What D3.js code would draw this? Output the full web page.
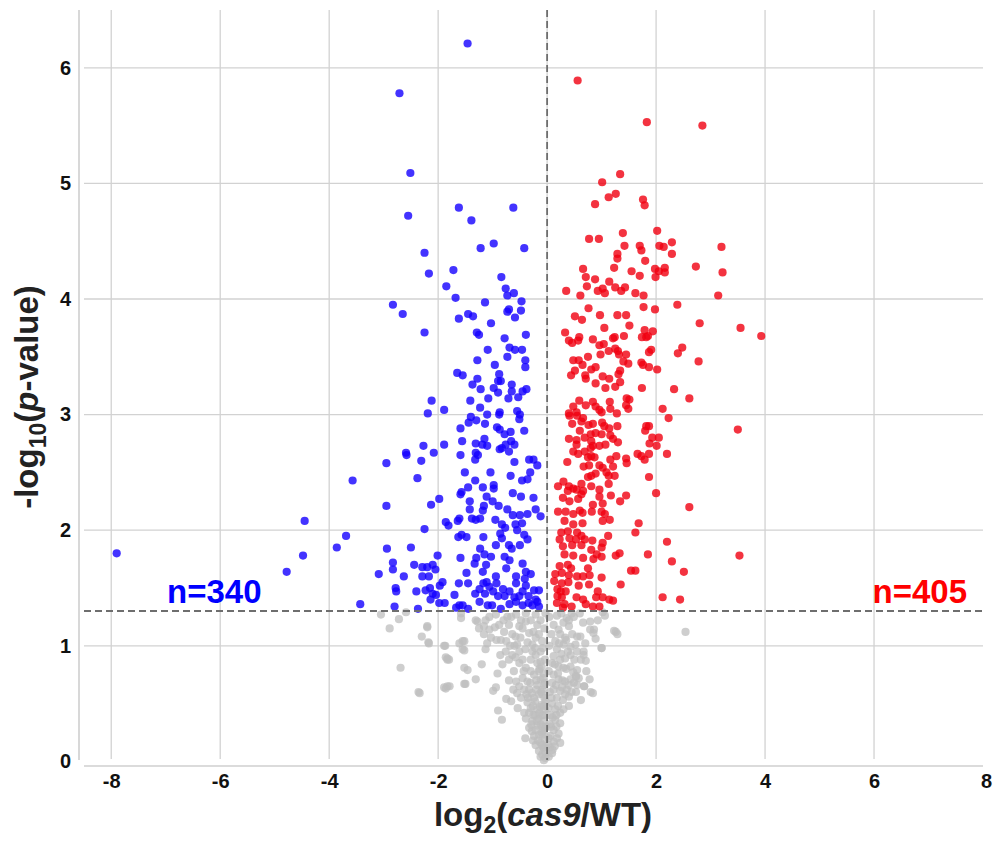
<!DOCTYPE html>
<html>
<head>
<meta charset="utf-8">
<script src="https://cdn.jsdelivr.net/npm/d3@7"></script>
<style>
body { margin:0; background:#fff; }
text { font-family: "Liberation Sans", Arial, sans-serif; font-weight:bold; }
</style>
</head>
<body>
<div id="chart"></div>
<script>
// volcano plot: log2 fold change vs -log10 p
var xTicks = [-8,-6,-4,-2,0,2,4,6,8];
var yTicks = [0,1,2,3,4,5,6];
var pCut = 1.301;
var nDown = 340, nUp = 405;

// significant, down (blue)
var down = [
[-1.46,6.21],[-2.71,5.78],[-2.51,5.09],[-2.55,4.72],[-1.62,4.79],[-0.62,4.79],[-1.39,4.68],[-0.98,4.48],[-1.22,4.44],[-0.42,4.44],
[-2.25,4.40],[-2.17,4.22],[-1.72,4.25],[-0.84,4.19],[-1.85,4.11],[-0.76,4.09],[-0.73,4.03],[-0.61,4.05],[-1.68,4.01],[-2.83,3.95],
[-2.65,3.87],[-1.14,3.97],[-0.47,3.98],[-0.70,3.91],[-0.73,3.89],[-0.48,3.90],[-1.45,3.87],[-1.36,3.85],[-1.62,3.83],[-0.59,3.84],
[-1.03,3.79],[-2.25,3.71],[-1.29,3.71],[-1.25,3.69],[-0.39,3.69],[-0.78,3.66],[-0.69,3.58],[-0.59,3.56],[-0.46,3.56],[-1.09,3.56],
[-0.73,3.50],[-1.28,3.47],[-0.40,3.47],[-0.96,3.43],[-0.40,3.41],[-1.65,3.36],[-1.55,3.34],[-0.88,3.35],[-1.28,3.31],[-0.90,3.29],
[-0.85,3.29],[-1.37,3.26],[-0.65,3.26],[-0.98,3.23],[-1.22,3.22],[-0.90,3.19],[-0.65,3.20],[-0.38,3.22],[-0.45,3.20],[-0.53,3.15],
[-1.41,3.12],[-1.08,3.14],[-0.71,3.14],[-2.12,3.12],
[-2.19,3.01],[-1.89,3.04],[-1.23,3.06],[-0.87,3.02],[-0.88,3.00],[-1.10,3.00],[-1.40,2.98],[-0.55,3.03],[-0.50,3.00],[-0.51,2.96],
[-1.30,2.95],[-1.14,2.92],[-1.44,2.93],[-1.59,2.88],[-0.92,2.89],[-0.87,2.87],[-0.78,2.83],[-0.67,2.85],[-0.42,2.86],[-1.15,2.79],
[-1.56,2.77],[-1.31,2.75],[-1.19,2.74],[-1.10,2.73],[-0.66,2.77],[-0.60,2.74],[-0.76,2.74],[-1.89,2.74],[-2.27,2.73],[-2.59,2.67],
[-2.58,2.65],[-2.08,2.67],[-1.59,2.65],[-1.31,2.67],[-1.27,2.65],[-0.87,2.70],[-0.70,2.68],[-0.83,2.71],[-2.95,2.58],[-2.31,2.60],
[-1.32,2.61],[-0.60,2.59],[-0.33,2.61],[-0.25,2.61],[-0.18,2.56],[-2.38,2.45],[-1.51,2.50],[-1.04,2.50],[-0.67,2.47],[-0.31,2.50],
[-0.46,2.43],[-0.36,2.44],[-1.32,2.43],[-0.98,2.39],[-0.98,2.36],[-1.18,2.37],[-1.45,2.37],[-1.57,2.33],[-1.59,2.31],[-0.63,2.32],
[-1.11,2.29],[-0.48,2.29],[-0.25,2.28],[-1.98,2.27],[-2.13,2.22],[-2.95,2.21],[-1.42,2.25],[-1.00,2.25],[-0.89,2.21],[-1.16,2.21],
[-1.42,2.18],[-1.18,2.17],[-0.73,2.18],[-0.63,2.13],[-0.50,2.13],[-0.36,2.14],[-0.21,2.18],[-0.12,2.12],[-1.38,2.10],[-1.31,2.09],
[-1.23,2.10],[-1.61,2.10],[-1.64,2.08],[-1.86,2.07],[-1.81,2.04],[-0.95,2.09],[-0.83,2.05],[-0.77,2.02],[-0.58,2.05],[-0.46,2.06],
[-0.86,1.97],[-0.55,2.00],[-2.25,2.01],[-1.63,1.94],[-1.57,1.96],[-1.48,1.94],[-1.17,1.94],[-0.42,1.96],[-0.36,1.92],[-0.83,1.93],
[-0.70,1.87],[-0.94,1.87],[-0.65,1.84],[-0.50,1.87],[-1.23,1.84],[-2.94,1.84],[-2.50,1.85],[-2.01,1.78],[-1.59,1.76],[-1.30,1.76],
[-1.15,1.79],[-1.03,1.77],[-0.78,1.77],[-0.69,1.74],[-0.45,1.71],[-2.83,1.72],[-2.44,1.70],[-2.29,1.68],[-2.20,1.68],[-2.10,1.70],
[-2.83,1.66],[-2.05,1.66],[-1.33,1.71],[-1.12,1.70],[-1.18,1.64],[-0.75,1.67],[-0.39,1.64],[-0.30,1.62],[-3.09,1.62],[-2.63,1.60],
[-2.29,1.60],[-2.17,1.60],[-1.48,1.63],[-0.94,1.60],[-0.57,1.60],[-0.41,1.58],[-1.92,1.55],[-1.62,1.54],[-1.45,1.54],[-1.17,1.54],
[-1.11,1.55],[-0.93,1.54],[-0.57,1.54],[-0.39,1.52],[-2.78,1.50],[-2.77,1.47],[-2.40,1.47],[-2.23,1.48],[-2.15,1.50],[-1.97,1.52],
[-1.24,1.49],[-1.06,1.51],[-0.81,1.49],[-0.69,1.47],[-0.45,1.47],[-0.24,1.48],[-0.15,1.48],[-2.10,1.45],[-2.04,1.44],[-1.70,1.44],
[-1.32,1.45],[-1.14,1.45],[-0.99,1.47],[-0.90,1.43],[-0.78,1.43],[-0.60,1.42],[-0.51,1.43],[-0.34,1.43],[-0.21,1.40],[-0.18,1.38],
[-2.14,1.40],[-1.88,1.37],[-1.98,1.37],[-1.55,1.35],[-1.61,1.35],[-1.24,1.38],[-1.09,1.35],[-1.01,1.35],[-0.69,1.36],[-0.57,1.38],
[-0.45,1.35],[-0.34,1.37],[-0.27,1.35],[-2.37,1.32],[-2.80,1.34],[-1.67,1.33],[-1.45,1.32],[-0.85,1.32],[-0.15,1.34],
[-3.57,2.43],[-4.45,2.08],[-3.69,1.95],[-3.86,1.85],[-4.48,1.78],[-4.78,1.64],[-7.90,1.80],[-3.43,1.36]
];

// significant, up (red)
var up = [
[0.56,5.89],[1.83,5.53],[2.85,5.50],
[1.34,5.08],[1.01,5.01],[1.26,4.91],[1.13,4.88],[0.88,4.82],[1.76,4.86],[1.79,4.81],[1.39,4.57],[0.77,4.52],[0.95,4.52],[2.02,4.59],
[2.29,4.49],[1.70,4.46],[1.73,4.42],[2.06,4.46],[2.14,4.45],[1.42,4.46],[1.29,4.39],[1.29,4.35],[2.29,4.39],[3.20,4.45],[1.80,4.33],
[1.23,4.27],[0.66,4.26],[1.98,4.26],[2.16,4.27],[2.05,4.24],[2.16,4.23],[1.99,4.19],[2.73,4.28],[3.22,4.23],[1.55,4.24],[1.70,4.20],
[0.71,4.19],[0.88,4.17],[1.14,4.15],[0.73,4.11],[0.35,4.07],[0.93,4.07],[1.02,4.09],[1.06,4.05],[1.25,4.10],[1.36,4.07],[1.43,4.10],
[1.62,4.05],[1.77,4.03],[0.61,4.03],[3.14,4.03],[0.76,3.92],[1.77,3.93],[1.98,3.91],[2.39,3.95],[0.51,3.85],[0.64,3.82],[0.97,3.86],
[1.29,3.86],[1.45,3.86],[1.51,3.77],[1.05,3.75],[2.80,3.79],[3.55,3.75],[3.93,3.68],[0.33,3.71],[0.40,3.64],[0.46,3.62],[0.59,3.67],
[0.57,3.64],[0.84,3.65],[1.21,3.66],[1.24,3.67],[1.41,3.68],[1.79,3.73],[1.94,3.72],[1.74,3.67],[1.82,3.67],[1.85,3.68],[0.96,3.60],
[1.04,3.61],[1.25,3.57],[1.30,3.55],[1.13,3.55],[0.98,3.52],[1.45,3.52],[1.32,3.52],[1.91,3.56],[1.87,3.54],[2.48,3.58],[2.40,3.53],
[0.75,3.50],[0.48,3.47],[0.58,3.47],[0.65,3.43],[1.40,3.46],[1.49,3.44],[1.73,3.45],[1.76,3.43],[1.87,3.41],[2.02,3.39],[2.78,3.46],
[0.81,3.39],[0.89,3.41],[1.34,3.38],[0.51,3.38],[0.44,3.34],[0.70,3.34],[0.71,3.31],[1.02,3.33],[1.14,3.31],[1.31,3.35],[0.89,3.27],
[1.34,3.28],[1.25,3.24],[1.07,3.23],[1.74,3.23],[2.33,3.22],
[2.61,3.14],[1.46,3.14],[1.51,3.13],[0.59,3.12],[0.84,3.11],[1.15,3.11],[1.45,3.08],[1.49,3.05],[2.12,3.05],[0.48,3.07],[0.71,3.08],
[0.89,3.07],[0.96,3.04],[1.00,3.02],[1.16,3.05],[0.40,3.01],[0.41,2.99],[0.54,3.02],[0.55,2.99],[1.28,3.01],[2.23,2.97],[0.66,2.97],
[0.63,2.94],[0.46,2.92],[0.76,2.91],[0.84,2.92],[1.01,2.93],[1.05,2.90],[1.14,2.88],[1.29,2.90],[1.82,2.90],[1.87,2.90],[1.80,2.86],
[3.50,2.87],[0.60,2.86],[0.80,2.83],[0.89,2.84],[1.00,2.83],[1.16,2.82],[1.21,2.79],[1.30,2.76],[0.40,2.79],[0.54,2.78],[0.69,2.80],
[0.81,2.77],[0.84,2.73],[0.80,2.71],[0.96,2.73],[1.07,2.74],[1.93,2.80],[2.05,2.80],[1.88,2.75],[2.01,2.73],[0.54,2.74],[0.48,2.68],
[0.57,2.66],[0.69,2.68],[1.87,2.66],[1.66,2.66],[1.73,2.64],[1.79,2.61],[2.20,2.66],[0.75,2.63],[0.81,2.64],[0.87,2.63],[1.16,2.61],
[1.27,2.64],[1.45,2.62],[1.46,2.58],[0.37,2.59],[0.67,2.55],[0.77,2.56],[0.96,2.56],[1.02,2.54],[1.21,2.55],[0.89,2.49],[0.81,2.47],
[0.75,2.46],[1.09,2.50],[1.13,2.47],[1.24,2.47],[1.87,2.46],[0.30,2.42],[0.20,2.38],[0.40,2.38],[0.48,2.36],[0.38,2.34],[0.54,2.35],
[0.63,2.40],[0.66,2.34],[0.63,2.31],[0.81,2.38],[0.96,2.35],[1.13,2.40],[1.17,2.30],[1.45,2.30],[1.34,2.25],[0.96,2.29],[2.00,2.32],
[0.29,2.28],[0.41,2.25],[0.57,2.27],[0.84,2.22],[1.02,2.23],[2.61,2.20],[0.20,2.16],[0.34,2.16],[0.48,2.14],[0.60,2.17],[0.65,2.15],
[0.82,2.16],[1.00,2.16],[1.06,2.14],[1.15,2.09],[1.02,2.08],[0.32,2.08],[0.48,2.05],[0.65,2.06],[1.68,2.06],[1.62,1.98],[0.26,1.98],
[0.38,1.99],[0.55,1.98],[0.41,1.93],[0.23,1.92],[0.53,1.92],[0.63,1.95],[0.69,1.92],[0.83,1.91],[1.12,1.95],[1.02,1.89],[2.20,1.90],
[0.29,1.86],[0.46,1.87],[0.63,1.87],[0.81,1.83],[1.00,1.85],[1.33,1.80],[1.26,1.78],[1.85,1.79],[3.53,1.78],[0.32,1.79],[0.48,1.78],
[0.66,1.76],[0.91,1.79],[1.00,1.77],[0.85,1.75],[2.29,1.73],[0.23,1.69],[0.38,1.70],[0.44,1.67],[0.75,1.67],[1.54,1.65],[1.62,1.65],
[2.51,1.64],[0.15,1.62],[0.27,1.63],[0.40,1.61],[0.55,1.60],[0.66,1.60],[0.78,1.61],[1.00,1.59],[0.13,1.56],[0.27,1.54],[0.39,1.55],
[0.58,1.52],[0.77,1.53],[1.35,1.53],[0.19,1.49],[0.25,1.47],[0.34,1.47],[0.93,1.47],[0.19,1.43],[0.27,1.42],[0.54,1.42],[0.66,1.40],
[0.90,1.42],[1.02,1.42],[1.14,1.40],[1.21,1.39],[2.12,1.42],[2.44,1.40],[0.18,1.37],[0.32,1.36],[0.45,1.34],[0.71,1.36],[0.84,1.34],
[0.96,1.34],[0.29,1.33]
];

// not significant (grey)
var ns = [
[-2.20,1.16],[-2.30,1.08],[-2.17,1.02],[-1.89,1.00],[-1.61,1.02],[-1.52,1.04],[-1.55,0.97],[-1.58,1.28],[-1.83,0.89],[-1.80,0.88],
[-1.46,0.79],[-1.20,0.84],[-1.31,0.71],[-1.50,0.67],[-1.86,0.63],[-1.79,0.65],[-2.34,0.59],[-0.91,0.76],[-0.99,0.61],[-0.94,0.64],
[-1.13,0.97],[-1.28,1.21],[-1.25,1.15],[-1.06,1.25],[-1.06,1.14],[-1.03,1.07],[-0.93,1.05],[-0.88,1.18],[-1.16,1.17],[-0.73,1.25],
[-0.70,1.18],[-0.79,1.12],[-0.75,1.04],[-0.64,1.10],[-0.51,1.17],[-0.39,1.21],[-0.49,1.07],[-0.55,1.01],[-0.33,1.11],[-0.25,1.12],
[-0.21,1.07],[-0.27,1.01],[-0.18,1.18],[-0.21,1.27],[-0.39,1.28],[-0.57,1.27],[-0.94,1.27],[-0.76,0.95],[-0.64,0.92],[-0.51,0.95],
[-0.70,0.88],[-0.82,0.84],[-0.51,0.85],[-0.39,0.81],[-0.30,0.88],[-0.21,0.92],[-0.18,0.85],[-0.12,0.95],[-0.09,1.04],[-0.61,0.78],
[-0.45,0.72],[-0.36,0.69],[-0.24,0.75],[-0.15,0.78],[-0.70,0.70],[-0.51,0.65],[-0.33,0.62],[-0.18,0.66],[-0.12,0.71],[-0.55,0.59],
[-0.48,0.55],[-0.75,0.54],[-0.66,0.52],[-0.36,0.51],[-0.24,0.55],[-0.15,0.58],[-0.09,0.62],[-0.54,0.46],[-0.42,0.42],[-0.30,0.46],
[-0.18,0.45],[-0.10,0.49],[-0.90,0.44],[-0.83,0.36],[-0.39,0.37],[-0.27,0.35],[-0.16,0.37],[-0.09,0.40],[-0.33,0.29],[-0.21,0.27],
[-0.12,0.32],[-0.40,0.20],[-0.24,0.22],[-0.15,0.23],[-0.07,0.26],[-0.21,0.14],[-0.12,0.16],[-0.07,0.12],[-0.15,0.09],[-0.09,0.06],
[-0.06,0.01],
[-0.05,1.15],[-0.08,0.98],[-0.04,0.88],[-0.14,0.80],[-0.06,0.76],[-0.20,0.70],[-0.04,0.68],[-0.11,0.60],[-0.22,0.52],[-0.05,0.55],
[-0.13,0.47],[-0.04,0.45],[-0.25,0.40],[-0.06,0.35],[-0.18,0.31],[-0.03,0.30],[-0.10,0.25],[-0.28,0.26],[-0.04,0.19],[-0.17,0.18],
[-0.09,0.14],[-0.03,0.08],[-0.12,0.04],[-0.35,0.55],[-0.42,0.62],[-0.30,0.78],[-0.45,0.88],[-0.60,1.00],[-0.40,0.97],[-0.12,1.22],
[-0.30,1.22],[-0.48,1.22],[-0.66,1.25],[-0.80,1.22],[-0.03,1.28],[-0.15,1.10],[-0.45,1.15],[-0.58,1.08],
[-0.27,0.95],[-0.36,1.03],[-0.43,0.78],[-0.57,0.69],[-0.62,0.62],[-0.28,0.59],[-0.20,0.62],[-0.31,0.68],[-0.38,0.58],[-0.26,0.48],
[-0.33,0.42],[-0.22,0.40],[-0.14,0.42],[-0.29,0.32],[-0.19,0.35],[-0.26,0.18],[-0.08,0.30],[-0.06,0.48],[-0.12,0.86],[-0.22,0.98],
[-0.85,1.05],[-0.96,1.16],[-1.10,1.02],[-0.68,1.00],[-0.58,0.90],[-0.86,0.92],
[0.12,1.18],[0.21,1.14],[0.30,1.20],[0.40,1.17],[0.36,1.24],[0.49,1.25],[0.66,1.20],[0.79,1.21],[0.79,1.14],[0.85,1.11],
[1.06,1.26],[1.26,1.12],[1.29,1.10],[1.00,0.98],[0.55,1.08],[0.61,1.08],[0.46,1.10],[0.33,1.07],[0.24,1.10],[0.15,1.04],
[0.30,1.01],[0.43,0.99],[0.52,1.01],[0.67,0.95],[0.67,0.92],[0.55,0.95],[0.18,0.97],[0.12,0.91],[0.24,0.88],[0.33,0.89],
[0.43,0.92],[0.21,0.82],[0.30,0.81],[0.43,0.82],[0.55,0.79],[0.72,0.78],[0.78,0.71],[0.53,0.73],[0.49,0.68],[0.55,0.66],
[0.68,0.65],[0.84,0.59],[0.62,0.53],[0.12,0.75],[0.21,0.71],[0.33,0.69],[0.43,0.71],[0.12,0.62],[0.24,0.61],[0.36,0.62],
[0.18,0.55],[0.29,0.53],[0.40,0.48],[0.40,0.56],[0.09,0.50],[0.15,0.45],[0.24,0.42],[0.06,0.40],[0.15,0.36],[0.24,0.33],
[0.05,0.32],[0.12,0.27],[0.21,0.24],[0.24,0.16],[0.06,0.22],[0.12,0.17],[0.05,0.12],[0.09,0.07],[0.03,0.04],[-0.06,0.12],
[-0.09,0.23],[-0.07,0.40],[-0.09,0.58],[-0.07,0.72],[-0.10,0.82],[-0.03,0.03],[-0.03,0.29],[-0.03,0.52],[-0.05,0.66],
[0.04,1.25],[0.08,1.10],[0.04,1.00],[0.09,0.85],[0.03,0.78],[0.16,0.66],[0.05,0.60],[0.28,0.70],[0.02,0.46],[0.20,0.48],
[0.10,0.38],[0.03,0.20],[0.17,0.30],[0.10,0.10],[0.02,0.14],[0.18,1.26],[0.26,1.28],[0.45,1.28],[0.60,1.28],[0.35,1.05],
[0.50,0.88],[0.35,0.80],[0.26,0.93],[0.62,0.88],[0.45,0.60],[0.30,0.45],[0.18,0.20],[0.08,0.55],
[0.14,0.84],[0.20,0.76],[0.27,0.64],[0.33,0.58],[0.17,0.40],[0.07,0.30],[0.14,0.13],[0.09,0.68],[0.22,1.02],[0.38,0.95],
[0.48,0.77],[0.40,0.66],[0.58,0.72],[0.70,1.02],[0.93,1.22],[0.40,1.22],
[-3.05,1.27],[-2.89,1.15],[-2.72,1.23],[-2.59,1.29],[-2.69,0.81],[-2.36,0.60],[-2.20,1.17],[-2.18,1.03],[-1.87,1.00],[-1.86,0.90],
[-1.83,0.88],[-1.89,0.64],[-1.83,0.65],[-1.52,0.67],[-1.55,1.04],[-1.52,0.96],[-1.31,1.22],[-1.52,0.81],[-1.58,1.24],[-1.13,1.22],
[-1.16,1.10],[1.23,1.13],[1.00,0.98],[0.80,0.60],[0.68,0.65],[0.53,0.74],[0.53,0.60],[0.86,1.14],[0.89,1.06],[0.71,0.87],
[1.02,1.29],[2.54,1.12]
];

var svg = d3.select("#chart").append("svg").attr("width",995).attr("height",841);
var x = d3.scaleLinear().domain([-8.5,8]).range([84,983]);
var y = d3.scaleLinear().domain([-0.04,6.5]).range([766,10]);

// grid
svg.append("g").selectAll("line").data(xTicks.filter(d=>d<8)).enter().append("line")
    .attr("x1",d=>x(d)).attr("x2",d=>x(d)).attr("y1",10).attr("y2",759)
    .style("stroke","#d2d2d2").style("stroke-width",1.3);
svg.append("g").selectAll("line").data(yTicks.filter(d=>d>0)).enter().append("line")
    .attr("x1",84).attr("x2",983).attr("y1",d=>y(d)).attr("y2",d=>y(d))
    .style("stroke","#d2d2d2").style("stroke-width",1.3);
// axis lines
svg.append("line").attr("x1",79).attr("x2",79).attr("y1",10).attr("y2",760)
    .style("stroke","#cfcfcf").style("stroke-width",1.6);
svg.append("line").attr("x1",84).attr("x2",983).attr("y1",766).attr("y2",766)
    .style("stroke","#cfcfcf").style("stroke-width",1.6);

// ticks
var fmt = d=>String(d);
var gx = svg.append("g").attr("transform","translate(0,766)")
    .call(d3.axisBottom(x).tickValues(xTicks).tickFormat(fmt).tickSize(0).tickPadding(8));
var gy = svg.append("g").attr("transform","translate(79,0)")
    .call(d3.axisLeft(y).tickValues(yTicks).tickFormat(fmt).tickSize(0).tickPadding(8));
[gx,gy].forEach(g=>{
    g.select(".domain").remove();
    g.selectAll("text").style("font-family",'"Liberation Sans", Arial, sans-serif')
        .style("font-weight","bold").style("font-size","20px").style("fill","#111");
});
gx.selectAll(".tick").filter(d=>d==8).select("text").attr("dx",3);

// points
function dots(data,col,op) {
    svg.append("g").selectAll("circle").data(data).enter().append("circle")
        .attr("cx",d=>x(d[0])).attr("cy",d=>y(d[1])).attr("r",4.1)
        .style("fill",col).style("fill-opacity",op);
}
dots(ns,"#bdbdbd",0.75);
dots(down,"#1400ff",0.8);
dots(up,"#f00010",0.8);

// thresholds
svg.append("line").attr("x1",84).attr("x2",983).attr("y1",y(pCut)).attr("y2",y(pCut))
    .style("stroke","#6e6e6e").style("stroke-width",1.8).style("stroke-dasharray","7,4");
svg.append("line").attr("x1",x(0)).attr("x2",x(0)).attr("y1",10).attr("y2",760)
    .style("stroke","#6e6e6e").style("stroke-width",1.8).style("stroke-dasharray","7,4");

// counts
svg.append("text").attr("x",167).attr("y",603).style("font-size","33px").style("fill","#0000ff").text("n="+nDown);
svg.append("text").attr("x",967).attr("y",603).attr("text-anchor","end").style("font-size","33px").style("fill","#ff0000").text("n="+nUp);

// axis titles
var xt = svg.append("text").attr("x",543).attr("y",826).attr("text-anchor","middle")
    .style("font-size","33px").style("fill","#222");
xt.append("tspan").text("log");
xt.append("tspan").attr("dy",7).style("font-size","23px").text("2");
xt.append("tspan").attr("dy",-7).text("(");
xt.append("tspan").style("font-style","italic").text("cas9");
xt.append("tspan").text("/WT)");

var yt = svg.append("text").attr("transform","translate(38,397) rotate(-90)").attr("text-anchor","middle")
    .style("font-size","33px").style("fill","#222");
yt.append("tspan").text("-log");
yt.append("tspan").attr("dy",8).style("font-size","23px").text("10");
yt.append("tspan").attr("dy",-8).text("(");
yt.append("tspan").style("font-style","italic").text("p");
yt.append("tspan").text("-value)");
</script>
</body>
</html>
